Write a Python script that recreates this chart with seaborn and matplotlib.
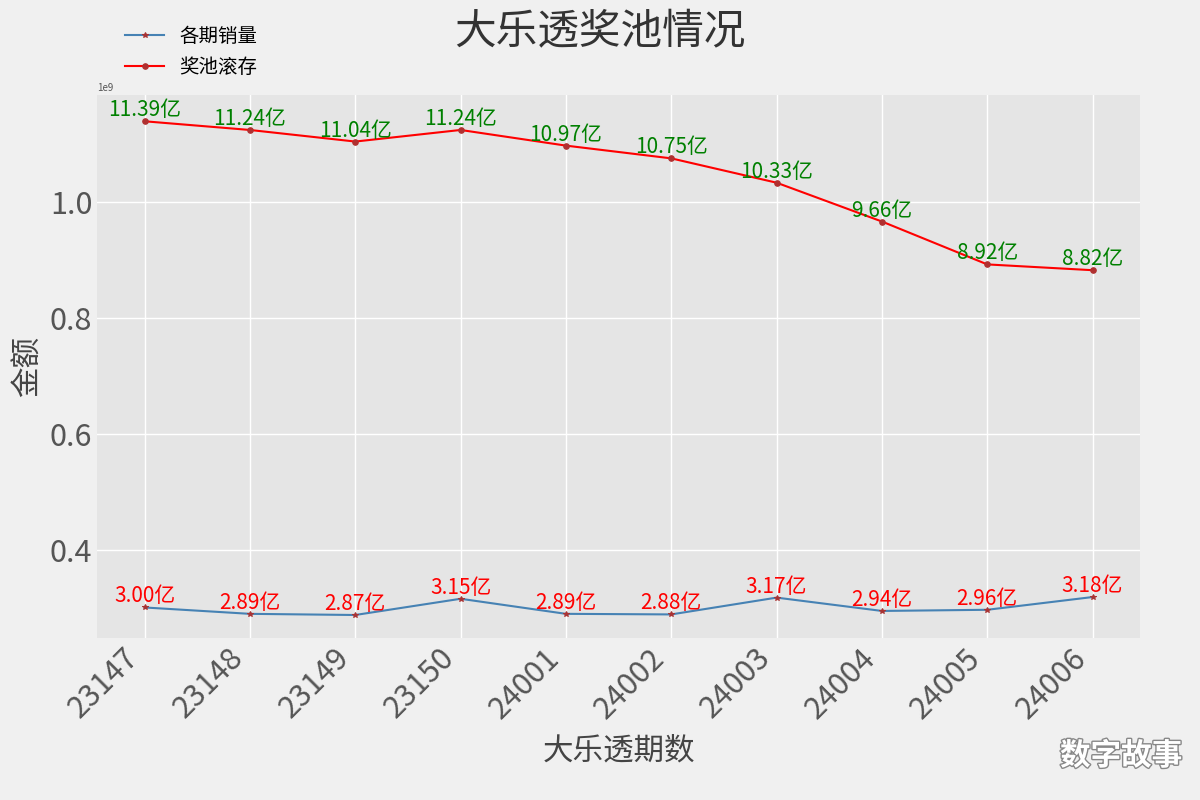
import matplotlib
matplotlib.use("Agg")
import matplotlib.pyplot as plt
import matplotlib.patheffects as pe
import matplotlib.transforms as mtrans
import seaborn as sns
import pandas as pd
import numpy as np

periods = ["23147","23148","23149","23150","24001","24002","24003","24004","24005","24006"]
sales_yi = [3.00,2.89,2.87,3.15,2.89,2.88,3.17,2.94,2.96,3.18]
pool_yi = [11.39,11.24,11.04,11.24,10.97,10.75,10.33,9.66,8.92,8.82]

plt.style.use("ggplot")
plt.rcParams["font.family"] = ["Noto Sans CJK SC", "DejaVu Sans"]
plt.rcParams["axes.unicode_minus"] = False

x = np.arange(len(periods))
df = pd.DataFrame({"x": x, "sales": np.array(sales_yi)*1e8, "pool": np.array(pool_yi)*1e8})

fig = plt.figure(figsize=(12, 8), dpi=100, facecolor="#f0f0f0")
ax = fig.add_axes([0.081, 0.203, 0.869, 0.678])
ax.set_facecolor("#e5e5e5")

sns.lineplot(data=df, x="x", y="sales", ax=ax, color="#4682b4", marker="*", markersize=4,
             markerfacecolor="#a33", markeredgecolor="#a33", label="各期销量", linewidth=1.5)
sns.lineplot(data=df, x="x", y="pool", ax=ax, color="red", marker="o", markersize=4,
             markerfacecolor="#b03030", markeredgecolor="#b03030", label="奖池滚存", linewidth=1.5)

for xi, v in zip(x, sales_yi):
    ax.text(xi, v*1e8, f"{v:.2f}亿", color="red", fontsize=15, ha="center", va="bottom")
for xi, v in zip(x, pool_yi):
    ax.text(xi, v*1e8, f"{v:.2f}亿", color="green", fontsize=15, ha="center", va="bottom")

ax.set_xlim(-0.45, 9.45)
ax.set_ylim(0.248e9, 1.184e9)
ax.set_yticks([0.4e9, 0.6e9, 0.8e9, 1.0e9])
ax.set_xticks(x)
ax.set_xticklabels(periods, rotation=45, ha="right", fontsize=22, color="#555555")
offset = mtrans.ScaledTranslation(-0.3, 0, fig.dpi_scale_trans)
for lbl in ax.get_xticklabels():
    lbl.set_transform(lbl.get_transform() + offset)
ax.tick_params(axis="y", labelsize=22, labelcolor="#555555")
ax.tick_params(length=0)
ax.grid(color="white", linewidth=1)
ax.set_xlabel("大乐透期数", fontsize=22, color="#444444", labelpad=8)
ax.set_ylabel("金额", fontsize=22, color="#444444")
ax.yaxis.get_offset_text().set_fontsize(7)
for s in ax.spines.values():
    s.set_visible(False)

fig.suptitle("大乐透奖池情况", fontsize=30, y=0.985, color="#333333")
ax.legend(loc="upper left", bbox_to_anchor=(0.01, 1.16), frameon=False, fontsize=14)

fig.text(0.985, 0.055, "数字故事", fontsize=22, color="white", ha="right", va="center",
         fontweight="bold", path_effects=[pe.withStroke(linewidth=2, foreground="#888888")])

fig.savefig("out.png", dpi=100, facecolor=fig.get_facecolor())
